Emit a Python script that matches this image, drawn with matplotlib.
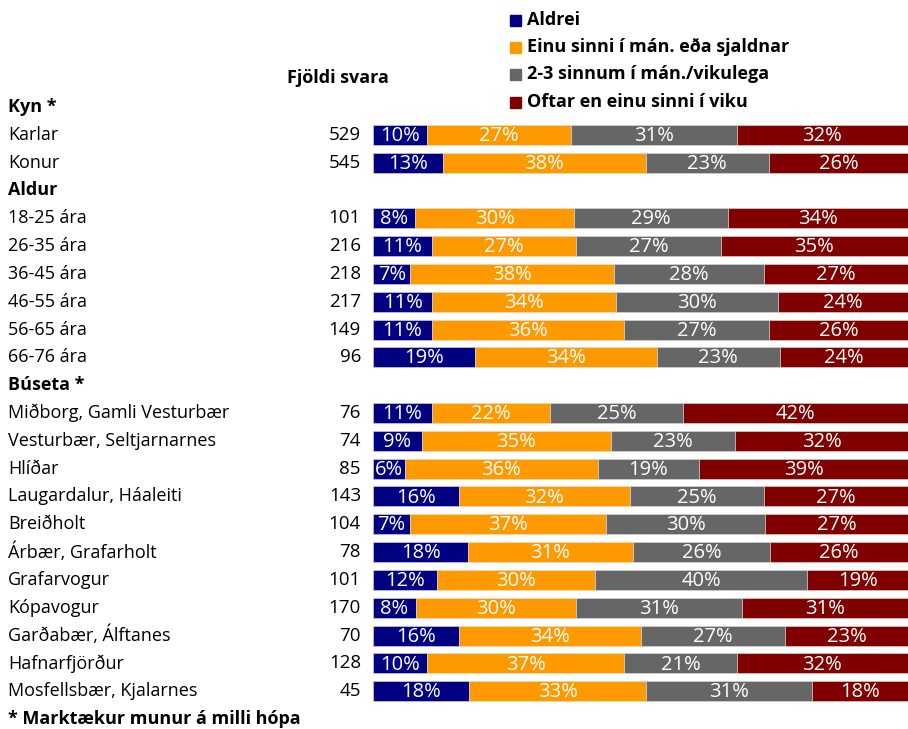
import numpy as np
import matplotlib.pyplot as plt
from matplotlib.transforms import blended_transform_factory

# %% ============================ Data ========================================
rows = ['Kyn *', 'Karlar', 'Konur',
        'Aldur', '18-25 ára', '26-35 ára', '36-45 ára', '46-55 ára',
        '56-65 ára', '66-76 ára',
        'Búseta *', 'Miðborg, Gamli Vesturbær', 'Vesturbær, Seltjarnarnes',
        'Hlíðar', 'Laugardalur, Háaleiti', 'Breiðholt', 'Árbær, Grafarholt',
        'Grafarvogur', 'Kópavogur', 'Garðabær, Álftanes', 'Hafnarfjörður',
        'Mosfellsbær, Kjalarnes']
headers = ['Kyn *', 'Aldur', 'Búseta *']

counts = [None, 529, 545,
          None, 101, 216, 218, 217, 149, 96,
          None, 76, 74, 85, 143, 104, 78, 101, 170, 70, 128, 45]

aldrei = [None, 10, 13, None, 8, 11, 7, 11, 11, 19,
          None, 11, 9, 6, 16, 7, 18, 12, 8, 16, 10, 18]
einu = [None, 27, 38, None, 30, 27, 38, 34, 36, 34,
        None, 22, 35, 36, 32, 37, 31, 30, 30, 34, 37, 33]
tvo_thrju = [None, 31, 23, None, 29, 27, 28, 30, 27, 23,
             None, 25, 23, 19, 25, 30, 26, 40, 31, 27, 21, 31]
oftar = [None, 32, 26, None, 34, 35, 27, 24, 26, 24,
         None, 42, 32, 39, 27, 27, 26, 19, 31, 23, 32, 18]

series = [aldrei, einu, tvo_thrju, oftar]
series_names = ['Aldrei', 'Einu sinni í mán. eða sjaldnar',
                '2-3 sinnum í mán./vikulega', 'Oftar en einu sinni í viku']
colors = ['#000080', '#FF9900', '#666666', '#800000']

footnote = '* Marktækur munur á milli hópa'

# %% ============================ Figure ======================================
W, H = 908, 729
fig = plt.figure(figsize=(W / 100, H / 100), dpi=100)
font = ['Open Sans', 'DejaVu Sans']
fs = 13

row0_px = 107.0
step_px = 27.82
y_top = -row0_px / step_px
y_bot = (H - row0_px) / step_px

bar_left = 373 / W
ax = fig.add_axes([bar_left, 0, 1 - bar_left, 1])
ax.set_xlim(0, 100)
ax.set_ylim(y_bot, y_top)
ax.axis('off')

# %% ============================ Bars ========================================
for i in range(len(rows)):
    if counts[i] is None:
        continue
    vals = np.array([s[i] for s in series], dtype=float)
    widths = vals / vals.sum() * 100
    left = 0.0
    for v, w, c in zip(vals, widths, colors):
        ax.barh(i, w, left=left, height=0.72, color=c,
                edgecolor='#dddddd', linewidth=0.4)
        ax.text(left + w / 2, i + 0.04, '{:.0f}%'.format(v), ha='center',
                va='center', color='white', fontsize=14.5, family=font)
        left += w

# %% ============================ Labels ======================================
tr = blended_transform_factory(fig.transFigure, ax.transData)
for i, name in enumerate(rows):
    bold = name in headers
    ax.text(8 / W, i, name, transform=tr, ha='left', va='center',
            fontsize=fs, fontweight='bold' if bold else 'normal',
            family=font, color='black')
    if counts[i] is not None:
        ax.text(361 / W, i, str(counts[i]), transform=tr, ha='right',
                va='center', fontsize=13.5, family=font, color='black')

ax.text(338 / W, -1.05, 'Fjöldi svara', transform=tr, ha='center',
        va='center', fontsize=fs, fontweight='bold', family=font)
ax.text(8 / W, len(rows), footnote, transform=tr, ha='left', va='center',
        fontsize=fs, fontweight='bold', family=font)

# %% ============================ Legend ======================================
leg_y = [20, 47, 74, 102]
for name, c, py in zip(series_names, colors, leg_y):
    fig.patches.append(plt.Rectangle((510 / W, 1 - (py + 6) / H), 11 / W,
                                     11 / H, transform=fig.transFigure,
                                     color=c))
    fig.text(527 / W, 1 - py / H, name, ha='left', va='center',
             fontsize=fs, fontweight='bold', family=font)

fig.savefig('out.png', dpi=100)
